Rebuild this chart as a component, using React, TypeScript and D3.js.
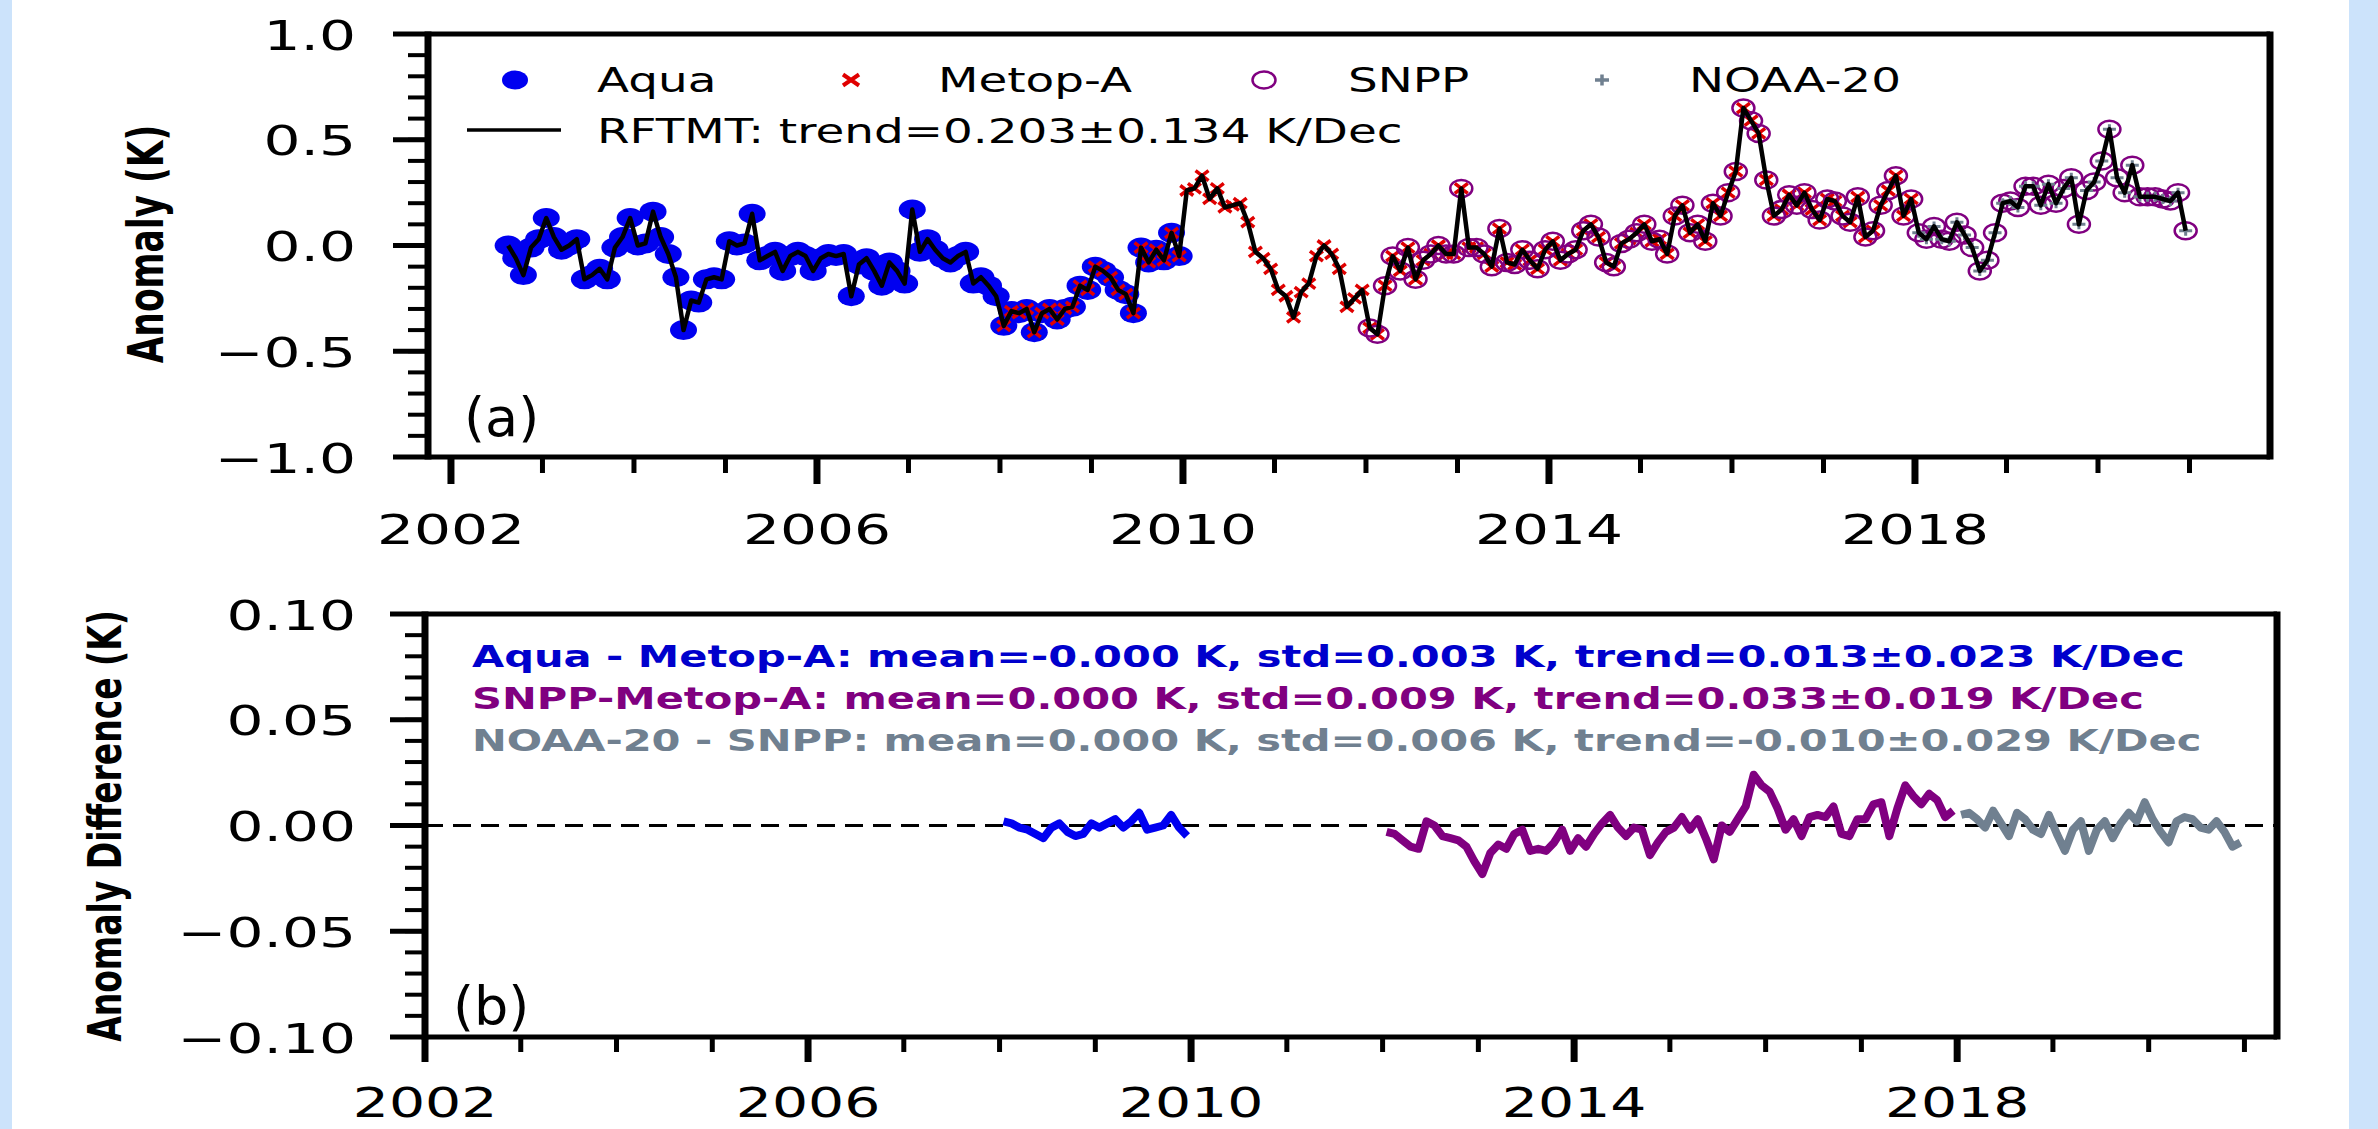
import * as d3 from "d3";

const W = 2378;
const H = 1129;
// the source figure was stretched sideways, so text and markers are too
const SX = 1.42;
const FONT = "'DejaVu Sans', Verdana, sans-serif";

// monthly merged RFTMT anomaly (K), Aug 2002 .. Dec 2020
const rftmt2002 = [0.0, -0.06, -0.14, -0.01, 0.03];
const rftmt2003 = [0.13, 0.04, -0.02, 0.0, 0.03, -0.16, -0.14, -0.11, -0.16, -0.01, 0.04, 0.13];
const rftmt2004 = [0.0, 0.01, 0.16, 0.04, -0.04, -0.15, -0.4, -0.26, -0.27, -0.16, -0.15, -0.16];
const rftmt2005 = [0.02, 0.0, 0.01, 0.15, -0.07, -0.05, -0.03, -0.12, -0.05, -0.03, -0.05, -0.12];
const rftmt2006 = [-0.06, -0.04, -0.05, -0.04, -0.24, -0.09, -0.06, -0.12, -0.19, -0.08, -0.12, -0.18];
const rftmt2007 = [0.17, -0.03, 0.03, -0.02, -0.06, -0.08, -0.05, -0.03, -0.18, -0.15, -0.19, -0.24];
const rftmt2008 = [-0.38, -0.31, -0.32, -0.3, -0.41, -0.32, -0.3, -0.35, -0.3, -0.29, -0.19, -0.21];
const rftmt2009 = [-0.1, -0.12, -0.15, -0.21, -0.23, -0.32, -0.01, -0.08, -0.02, -0.07, 0.06, -0.05];
const rftmt2010 = [0.26, 0.27, 0.33, 0.22, 0.27, 0.18, 0.19, 0.2, 0.11, -0.03, -0.06, -0.11];
const rftmt2011 = [-0.21, -0.24, -0.34, -0.22, -0.18, -0.05, 0.0, -0.04, -0.11, -0.29, -0.25, -0.21];
const rftmt2012 = [-0.39, -0.42, -0.19, -0.05, -0.12, -0.01, -0.16, -0.07, -0.04, 0.0, -0.04, -0.04];
const rftmt2013 = [0.27, -0.01, -0.01, -0.04, -0.1, 0.08, -0.08, -0.09, -0.02, -0.07, -0.11, -0.02];
const rftmt2014 = [0.02, -0.07, -0.04, -0.02, 0.07, 0.1, 0.04, -0.08, -0.1, 0.01, 0.03, 0.06];
const rftmt2015 = [0.1, 0.02, 0.03, -0.04, 0.14, 0.19, 0.06, 0.1, 0.02, 0.2, 0.14, 0.25];
const rftmt2016 = [0.35, 0.65, 0.59, 0.53, 0.31, 0.14, 0.17, 0.24, 0.19, 0.25, 0.17, 0.12];
const rftmt2017 = [0.22, 0.21, 0.14, 0.11, 0.23, 0.04, 0.07, 0.19, 0.26, 0.33, 0.14, 0.22];
const rftmt2018 = [0.06, 0.03, 0.09, 0.03, 0.02, 0.11, 0.05, -0.01, -0.12, -0.07, 0.06, 0.2];
const rftmt2019 = [0.21, 0.18, 0.28, 0.28, 0.19, 0.29, 0.2, 0.27, 0.32, 0.1, 0.26, 0.3];
const rftmt2020 = [0.4, 0.55, 0.32, 0.25, 0.38, 0.23, 0.23, 0.23, 0.22, 0.21, 0.25, 0.07];

const rftmt = [
  ...rftmt2002, ...rftmt2003, ...rftmt2004, ...rftmt2005, ...rftmt2006,
  ...rftmt2007, ...rftmt2008, ...rftmt2009, ...rftmt2010, ...rftmt2011,
  ...rftmt2012, ...rftmt2013, ...rftmt2014, ...rftmt2015, ...rftmt2016,
  ...rftmt2017, ...rftmt2018, ...rftmt2019, ...rftmt2020,
];

// month index spans (0 = Aug 2002) for each satellite
const aquaSpan = [0, 88]; // Aug 2002 - Dec 2009
const metopSpan = [65, 184]; // Jan 2008 - Dec 2017
const snppSpan = [113, 220]; // Jan 2012 - Dec 2020
const noaaSpan = [185, 220]; // Jan 2018 - Dec 2020

// anomaly differences (K), monthly
const aquaMinusMetop = [
  0.002, 0.001, -0.001, -0.002, -0.004, -0.006, -0.001, 0.001, -0.003, -0.005, -0.004, 0.001,
  -0.001, 0.001, 0.003, -0.001, 0.002, 0.006, -0.002, -0.001, 0.0, 0.005, -0.001, -0.005,
];
const snppMinusMetop = [
  -0.003, -0.004, -0.007, -0.01, -0.011, 0.002, 0.0, -0.005, -0.006, -0.007, -0.01, -0.017,
  -0.023, -0.013, -0.009, -0.011, -0.004, -0.002, -0.012, -0.011, -0.012, -0.008, -0.002, -0.012,
  -0.006, -0.01, -0.004, 0.001, 0.005, -0.001, -0.005, -0.001, -0.002, -0.014, -0.008, -0.003,
  -0.001, 0.004, -0.002, 0.003, -0.006, -0.016, 0.0, -0.003, 0.003, 0.009, 0.024, 0.019,
  0.016, 0.008, -0.002, 0.003, -0.005, 0.004, 0.005, 0.004, 0.009, -0.004, -0.005, 0.003,
  0.003, 0.01, 0.011, -0.005, 0.008, 0.019, 0.014, 0.01, 0.015, 0.012, 0.004, 0.007,
];
const noaaMinusSnpp = [
  0.005, 0.006, 0.003, -0.001, 0.007, 0.001, -0.005, 0.006, 0.003, -0.002, -0.004, 0.005,
  -0.004, -0.012, -0.002, 0.002, -0.012, -0.002, 0.002, -0.006, 0.001, 0.006, 0.002, 0.011,
  0.003, -0.003, -0.008, 0.002, 0.004, 0.003, -0.001, -0.002, 0.002, -0.003, -0.01, -0.008,
];

const majorYears = [2002, 2006, 2010, 2014, 2018];
const minorYears = d3.range(2002, 2022);
const yTicksA = [-1, -0.5, 0, 0.5, 1];
const yTicksB = [-0.1, -0.05, 0, 0.05, 0.1];

const legendA = ["Aqua", "Metop-A", "SNPP", "NOAA-20"];
const trendLabel = "RFTMT: trend=0.203\u00b10.134 K/Dec";
const diffLabels = [
  { text: "Aqua - Metop-A: mean=-0.000 K, std=0.003 K, trend=0.013\u00b10.023 K/Dec", color: "#0000cc" },
  { text: "SNPP-Metop-A: mean=0.000 K, std=0.009 K, trend=0.033\u00b10.019 K/Dec", color: "#800080" },
  { text: "NOAA-20 - SNPP: mean=0.000 K, std=0.006 K, trend=-0.010\u00b10.029 K/Dec", color: "#708090" },
];

const monthTime = (i: number) => 2002 + 7.5 / 12 + i / 12;
const fmt = (v: number, d: number) => (v < 0 ? "\u2212" : "") + Math.abs(v).toFixed(d);

function SText(props: any) {
  const { x, y, size, anchor = "start", weight = "normal", fill = "#000", rotate = 0, sx = SX, children } = props;
  return (
    <text
      transform={`translate(${x},${y}) scale(${sx},1)${rotate ? ` rotate(${rotate})` : ""}`}
      fontSize={size}
      textAnchor={anchor}
      fontWeight={weight}
      fill={fill}
      fontFamily={FONT}
    >
      {children}
    </text>
  );
}

function Frame({ x, y, spineX, spineY }: any) {
  const [l, r] = x.range();
  const [b, t] = y.range();
  return (
    <g stroke="#000" fill="none">
      <line x1={l} x2={r} y1={t} y2={t} strokeWidth={spineY} />
      <line x1={l} x2={r} y1={b} y2={b} strokeWidth={spineY} />
      <line x1={l} x2={l} y1={t - spineY / 2} y2={b + spineY / 2} strokeWidth={spineX} />
      <line x1={r} x2={r} y1={t - spineY / 2} y2={b + spineY / 2} strokeWidth={spineX} />
    </g>
  );
}

function Axes({ x, y, yMajor, yMinor, yDigits, majorLen, minorLen, labelBase, labelSize }: any) {
  const [l] = x.range();
  const [b] = y.range();
  return (
    <g>
      {yMinor.map((v: number) => (
        <line key={"ym" + v} x1={l - 20} x2={l} y1={y(v)} y2={y(v)} stroke="#000" strokeWidth={4} />
      ))}
      {yMajor.map((v: number) => (
        <g key={"yM" + v}>
          <line x1={l - 35} x2={l} y1={y(v)} y2={y(v)} stroke="#000" strokeWidth={5} />
          <SText x={356} y={y(v) + 15.5} size={41} anchor="end">{fmt(v, yDigits)}</SText>
        </g>
      ))}
      {minorYears.filter((t) => !majorYears.includes(t)).map((t) => (
        <line key={"xm" + t} x1={x(t)} x2={x(t)} y1={b} y2={b + minorLen} stroke="#000" strokeWidth={5} />
      ))}
      {majorYears.map((t) => (
        <g key={"xM" + t}>
          <line x1={x(t)} x2={x(t)} y1={b} y2={b + majorLen} stroke="#000" strokeWidth={7} />
          <SText x={x(t)} y={labelBase} size={labelSize} anchor="middle">{String(t)}</SText>
        </g>
      ))}
    </g>
  );
}

const xMark = (cx: number, cy: number, a: number, b: number) =>
  `M${cx - a},${cy - b}L${cx + a},${cy + b}M${cx - a},${cy + b}L${cx + a},${cy - b}`;
const plusMark = (cx: number, cy: number, a: number, b: number) =>
  `M${cx - a},${cy}L${cx + a},${cy}M${cx},${cy - b}L${cx},${cy + b}`;

export default function App() {
  const xA = d3.scaleLinear().domain([2001.749, 2021.88]).range([428, 2270]);
  const yA = d3.scaleLinear().domain([-1, 1]).range([457, 34]);
  const xB = d3.scaleLinear().domain([2002, 2021.34]).range([425, 2277]);
  const yB = d3.scaleLinear().domain([-0.1, 0.1]).range([1037, 614]);

  const pts = rftmt.map((v, i) => ({ i, x: xA(monthTime(i)), y: yA(v) }));
  const inSpan = (s: number[]) => pts.filter((p) => p.i >= s[0] && p.i <= s[1]);

  const lineA = d3
    .line<{ x: number; y: number }>()
    .x((d) => d.x)
    .y((d) => d.y)(pts);

  const diffPath = (vals: number[], start: number) =>
    d3
      .line<number>()
      .x((_, k) => xB(monthTime(start + k)))
      .y((d) => yB(d))(vals) as string;

  const legY1 = 80;
  const legY2 = 130;

  return (
    <svg width={W} height={H} style={{ position: "absolute", left: 0, top: 0, display: "block" }}>
      <rect x={0} y={0} width={W} height={H} fill="#fff" />
      <rect x={0} y={0} width={12} height={H} fill="#cce3fb" />
      <rect x={2349} y={0} width={W - 2349} height={H} fill="#cce3fb" />

      {/* panel (a) */}
      <g>
        {inSpan(aquaSpan).map((p) => (
          <ellipse key={"aq" + p.i} cx={p.x} cy={p.y} rx={13.5} ry={10} fill="#0000f0" />
        ))}
        {inSpan(metopSpan).map((p) => (
          <path key={"mt" + p.i} d={xMark(p.x, p.y, 6.5, 5)} stroke="#e00000" strokeWidth={3.5} fill="none" />
        ))}
        {inSpan(snppSpan).map((p) => (
          <ellipse key={"sn" + p.i} cx={p.x} cy={p.y} rx={11} ry={8.5} fill="none" stroke="#800080" strokeWidth={2.5} />
        ))}
        {inSpan(noaaSpan).map((p) => (
          <path key={"no" + p.i} d={plusMark(p.x, p.y, 6.5, 5)} stroke="#708090" strokeWidth={3} fill="none" />
        ))}
        <path d={lineA as string} fill="none" stroke="#000" strokeWidth={4.5} strokeLinejoin="round" />

        {/* legend */}
        <ellipse cx={515} cy={legY1} rx={13} ry={9.5} fill="#0000f0" />
        <path d={xMark(851, legY1, 8, 5.5)} stroke="#e00000" strokeWidth={4} fill="none" />
        <ellipse cx={1264} cy={legY1} rx={11.5} ry={8.5} fill="none" stroke="#800080" strokeWidth={2.5} />
        <path d={plusMark(1602, legY1, 7, 5.5)} stroke="#708090" strokeWidth={3.5} fill="none" />
        {legendA.map((s, k) => (
          <SText key={s} x={[597, 938, 1348, 1689][k]} y={legY1 + 12} size={33}>{s}</SText>
        ))}
        <line x1={467} x2={561} y1={legY2} y2={legY2} stroke="#000" strokeWidth={3.5} />
        <SText x={597} y={legY2 + 12.5} size={33}>{trendLabel}</SText>
        <SText x={464} y={436} size={54} sx={1.0}>(a)</SText>

        <Frame x={xA} y={yA} spineX={7} spineY={5} />
        <Axes x={xA} y={yA} yMajor={yTicksA} yMinor={d3.range(-10, 11).map((k) => k / 10)} yDigits={1}
          majorLen={27} minorLen={16} labelBase={544} labelSize={41} />
        <SText x={163} y={244} size={34.5} weight="bold" anchor="middle" rotate={-90}>Anomaly (K)</SText>
      </g>

      {/* panel (b) */}
      <g>
        <line x1={xB.range()[0]} x2={xB.range()[1]} y1={yB(0)} y2={yB(0)} stroke="#000" strokeWidth={3} strokeDasharray="18,10" />
        <path d={diffPath(aquaMinusMetop, metopSpan[0])} fill="none" stroke="#0000f0" strokeWidth={8} strokeLinejoin="round" />
        <path d={diffPath(snppMinusMetop, snppSpan[0])} fill="none" stroke="#800080" strokeWidth={8} strokeLinejoin="round" />
        <path d={diffPath(noaaMinusSnpp, noaaSpan[0])} fill="none" stroke="#708090" strokeWidth={8} strokeLinejoin="round" />

        {diffLabels.map((d, k) => (
          <SText key={k} x={472} y={[667, 709, 750.5][k]} size={29.3} weight="bold" fill={d.color}>{d.text}</SText>
        ))}
        <SText x={453} y={1025} size={54} sx={1.0}>(b)</SText>

        <Frame x={xB} y={yB} spineX={7} spineY={5} />
        <Axes x={xB} y={yB} yMajor={yTicksB} yMinor={d3.range(-10, 11).map((k) => k / 100)} yDigits={2}
          majorLen={25} minorLen={15} labelBase={1117} labelSize={40} />
        <SText x={121} y={826} size={33} weight="bold" anchor="middle" rotate={-90}>Anomaly Difference (K)</SText>
      </g>
    </svg>
  );
}
